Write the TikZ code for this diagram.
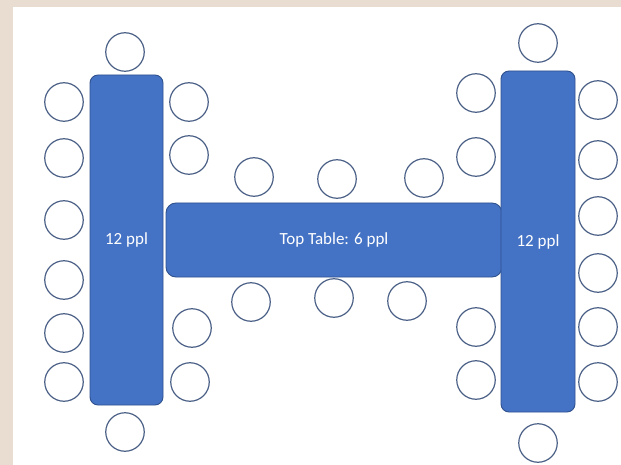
\documentclass[tikz,border=0pt]{standalone}
\usepackage{fontspec}
\setmainfont{Carlito}
\definecolor{tablefill}{HTML}{4472C4}
\definecolor{tableline}{HTML}{2F528F}
\definecolor{seatline}{HTML}{4A5F85}
\definecolor{beige}{HTML}{E8DDD0}
\begin{document}
\begin{tikzpicture}[x=1pt,y=-1pt,
  tablebox/.style={draw=tableline,fill=tablefill,line width=0.9pt,inner sep=0pt,
    text=white,font=\fontsize{17}{20}\selectfont},
  seat/.style={circle,draw=seatline,fill=white,line width=1.2pt,minimum size=38.5pt,inner sep=0pt}]
\fill[beige] (0,0) rectangle (621,465);
\fill[white] (13,7) rectangle (621,465);
\useasboundingbox (0,0) rectangle (621,465);
% tables
\node[tablebox,rounded corners=10pt,minimum width=336pt,minimum height=74pt] (top) at (334,240) {Top Table: 6 ppl};
\node[tablebox,rounded corners=8pt,minimum width=73pt,minimum height=330pt] (left) at (126.5,240) {12 ppl};
\node[tablebox,rounded corners=8pt,minimum width=74pt,minimum height=341pt] (right) at (538,241.5) {12 ppl};
% left table seats
\node[seat] (l0) at (125,52) {};
\node[seat] (lb) at (125,432) {};
\node[seat] (la1) at (64,102) {};
\node[seat] (la2) at (64,158) {};
\node[seat] (la3) at (64,220) {};
\node[seat] (la4) at (64,280) {};
\node[seat] (la5) at (64,333) {};
\node[seat] (la6) at (64,382) {};
\node[seat] (lr1) at (189,102) {};
\node[seat] (lr2) at (189,155) {};
\node[seat] (lr3) at (192,328) {};
\node[seat] (lr4) at (190,382) {};
% top table seats
\node[seat] (t1) at (254,177) {};
\node[seat] (t2) at (337,179) {};
\node[seat] (t3) at (424,178) {};
\node[seat] (b1) at (251,302) {};
\node[seat] (b2) at (334,298) {};
\node[seat] (b3) at (407,301) {};
% right table seats
\node[seat] (r0) at (538,43) {};
\node[seat] (rb) at (538,443) {};
\node[seat] (rl1) at (476,93) {};
\node[seat] (rl2) at (476,157) {};
\node[seat] (rl3) at (476,327) {};
\node[seat] (rl4) at (476,380) {};
\node[seat] (rr1) at (598,100) {};
\node[seat] (rr2) at (598,160) {};
\node[seat] (rr3) at (598,216) {};
\node[seat] (rr4) at (598,273) {};
\node[seat] (rr5) at (598,327) {};
\node[seat] (rr6) at (598,382) {};
\end{tikzpicture}
\end{document}
